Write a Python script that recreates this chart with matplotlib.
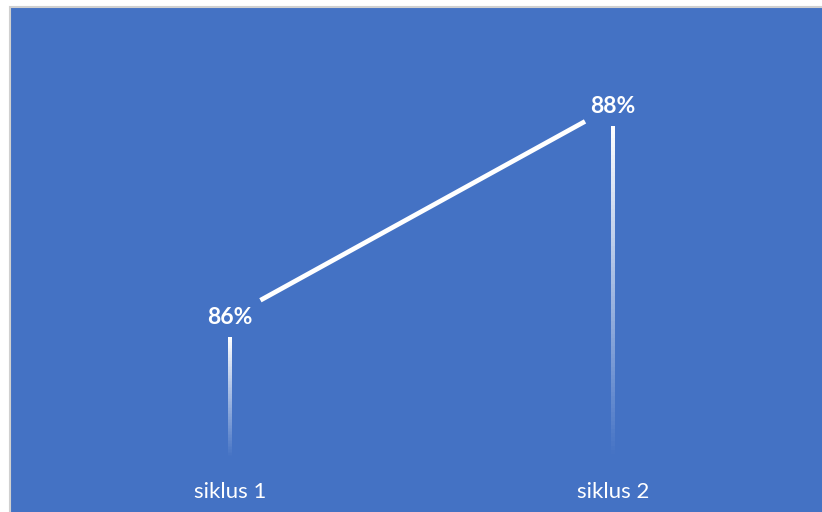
import numpy as np
import matplotlib
matplotlib.use("Agg")
import matplotlib.pyplot as plt
from matplotlib.collections import LineCollection
from matplotlib.colors import to_rgba
from matplotlib.patches import Rectangle

categories = ["siklus 1", "siklus 2"]
values = [86, 88]
value_labels = ["86%", "88%"]

BLUE = "#4472C4"
W, H = 822, 512
fig = plt.figure(figsize=(W / 100, H / 100), dpi=100, facecolor="white")

# plot area in pixels (from left / from top)
left_px, right_px, top_px, bottom_px = 10, 822, 7, 458
ax = fig.add_axes([left_px / W, 1 - bottom_px / H, (right_px - left_px) / W, (bottom_px - top_px) / H])
ax.set_facecolor("none")

# chart background: extends past right and bottom edges so only left/top border shows
fig.patches.append(Rectangle((left_px / W, -0.1), 1.2, 1.1 - top_px / H, transform=fig.transFigure,
                             facecolor=BLUE, edgecolor="#D0D0D0", linewidth=1.5, zorder=-1))

# axis scales
x_per_px = 1 / 383.0
y_per_px = 2 / 211.0
ax.set_xlim(0 - (230 - left_px) * x_per_px, 1 + (right_px - 613) * x_per_px)
ymin = 86 - (bottom_px - 317) * y_per_px
ymax = 88 + (106 - top_px) * y_per_px
ax.set_ylim(ymin, ymax)

for s in ax.spines.values():
    s.set_visible(False)
ax.set_yticks([])
x = np.arange(len(categories))
ax.set_xticks(x)
ax.set_xticklabels(categories, color="white", fontsize=16, family=["Lato", "DejaVu Sans"])
ax.tick_params(axis="x", length=0, pad=17)

# main line (shortened around labels)
ax.annotate("", xy=(x[1], values[1]), xytext=(x[0], values[0]),
            arrowprops=dict(arrowstyle="-", color="white", lw=3.4, shrinkA=25, shrinkB=23,
                            capstyle="butt"))

# gradient drop lines
gap = 20 * y_per_px
for xi, v in zip(x, values):
    n = 80
    ys = np.linspace(v - gap, ymin, n + 1)
    segs = [[(xi, ys[i]), (xi, ys[i + 1])] for i in range(n)]
    alphas = np.linspace(1.0, 0.0, n)
    cols = [to_rgba("white", a) for a in alphas]
    ax.add_collection(LineCollection(segs, colors=cols, linewidths=1.6, capstyle="butt",
                                     antialiaseds=False))

# data labels
for xi, v, lab in zip(x, values, value_labels):
    ax.text(xi, v, lab, ha="center", va="center", color="white", fontsize=16.5,
            fontweight="bold", family=["Lato", "DejaVu Sans"])

fig.savefig("out.png", dpi=100, facecolor="white")
